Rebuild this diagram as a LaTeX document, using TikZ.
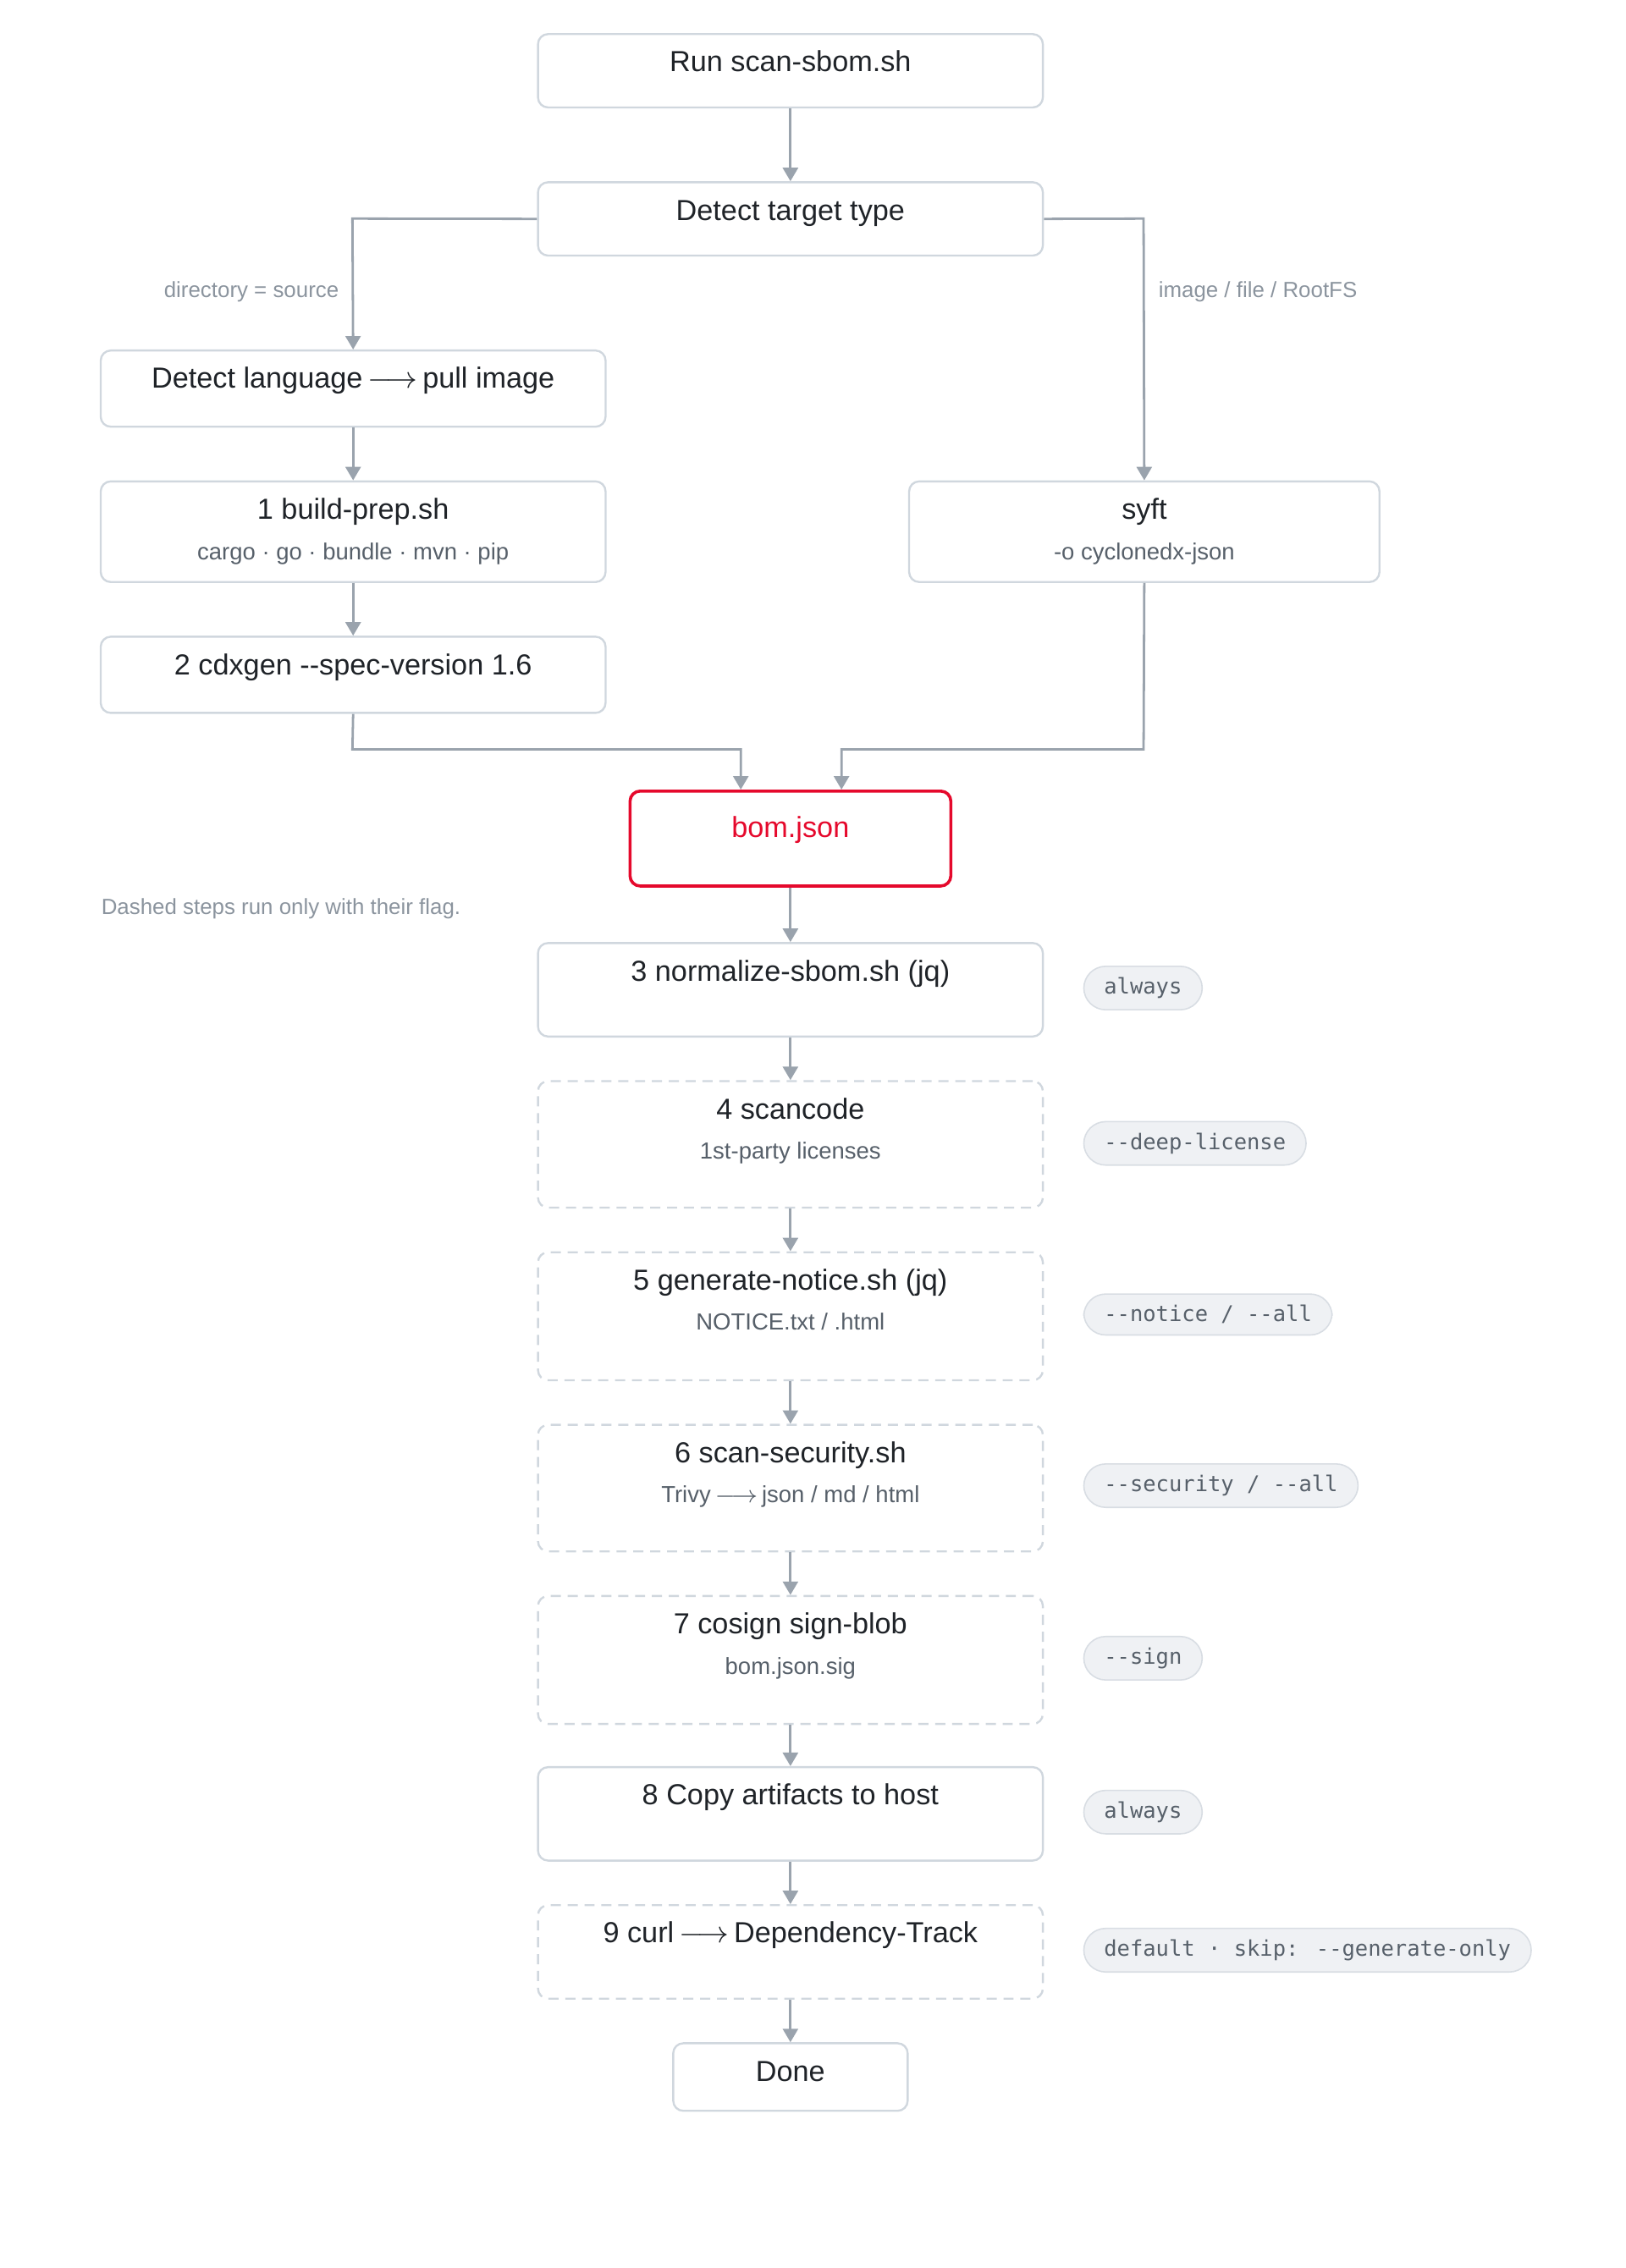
\documentclass[tikz,border=0pt]{standalone}
\usepackage{fontspec}
\setmainfont{Liberation Sans}
\newfontfamily\monofont{DejaVu Sans Mono}
\usetikzlibrary{arrows.meta,positioning}
\definecolor{boxline}{HTML}{D0D7DE}
\definecolor{wire}{HTML}{9AA3AD}
\definecolor{ink}{HTML}{1F2328}
\definecolor{subink}{HTML}{57606A}
\definecolor{note}{HTML}{8B949E}
\definecolor{alert}{HTML}{E5092C}
\definecolor{pillfill}{HTML}{EFF1F4}
\definecolor{pillline}{HTML}{D8DDE3}

% box: name, center x, top y, width, height, style
\newcommand{\stepbox}[6]{%
  \node[#6, minimum width=#4*0.015cm, minimum height=#5*0.015cm, anchor=north] (#1) at (#2,#3) {};}
\newcommand{\steptext}[3]{%
  \node[title, anchor=base] (#1-t) at ([yshift=-27*0.015cm]#1.north) {#2};
  \node[subtitle, anchor=base] (#1-s) at ([yshift=-55*0.015cm]#1.north) {#3};}
\newcommand{\arr}{\,$\longrightarrow$\,}

\begin{document}
\begin{tikzpicture}
        [x=0.015cm, y=-0.015cm,
        stage/.style={draw=boxline, rounded corners=3pt, fill=white, line width=0.6pt},
        flagged/.style={stage, dashed, dash pattern=on 3pt off 2pt},
        result/.style={draw=alert, rounded corners=3pt, line width=0.9pt},
        title/.style={font=\fontsize{8.6}{10}\selectfont, text=ink, inner sep=0pt},
        subtitle/.style={font=\fontsize{6.9}{8}\selectfont, text=subink, inner sep=0pt},
        flow/.style={draw=wire, line width=0.7pt, -{Triangle[length=4pt,width=4.5pt]}},
        branch/.style={font=\fontsize{6.5}{8}\selectfont, text=note, inner sep=0pt},
        pill/.style={draw=pillline, fill=pillfill, rounded corners=6.5pt, minimum height=26*0.015cm,
          inner xsep=6pt, font=\monofont\fontsize{6.4}{8}\selectfont, text=subink, anchor=west}]

        \useasboundingbox (0,0) rectangle (1130,1577);

        % boxes
        \stepbox{run}{549.5}{23}{351}{51}{stage}
        \stepbox{detect}{549.5}{126}{351}{51}{stage}
        \stepbox{lang}{245.5}{243}{351}{53}{stage}
        \stepbox{prep}{245.5}{334}{351}{70}{stage}
        \stepbox{cdx}{245.5}{442}{351}{53}{stage}
        \stepbox{syft}{795.5}{334}{327}{70}{stage}
        \stepbox{bom}{549.5}{549}{223}{66}{result}
        \stepbox{norm}{549.5}{655}{351}{65}{stage}
        \stepbox{scan}{549.5}{751}{351}{88}{flagged}
        \stepbox{notice}{549.5}{870}{351}{89}{flagged}
        \stepbox{sec}{549.5}{990}{351}{88}{flagged}
        \stepbox{sign}{549.5}{1109}{351}{89}{flagged}
        \stepbox{copy}{549.5}{1228}{351}{65}{stage}
        \stepbox{upload}{549.5}{1324}{351}{65}{flagged}
        \stepbox{done}{549.5}{1420}{163}{47}{stage}

        % texts
        \steptext{run}{Run scan-sbom.sh}{}
        \steptext{detect}{Detect target type}{}
        \steptext{lang}{Detect language\arr pull image}{}
        \steptext{prep}{1 build-prep.sh}{cargo · go · bundle · mvn · pip}
        \steptext{cdx}{2 cdxgen -{}-spec-version 1.6}{}
        \steptext{syft}{syft}{-o cyclonedx-json}
        \node[title, text=alert, anchor=base] (bom-t) at ([yshift=-33*0.015cm]bom.north) {bom.json};
        \steptext{norm}{3 normalize-sbom.sh (jq)}{}
        \steptext{scan}{4 scancode}{1st-party licenses}
        \steptext{notice}{5 generate-notice.sh (jq)}{NOTICE.txt / .html}
        \steptext{sec}{6 scan-security.sh}{Trivy\arr json / md / html}
        \steptext{sign}{7 cosign sign-blob}{bom.json.sig}
        \steptext{copy}{8 Copy artifacts to host}{}
        \steptext{upload}{9 curl\arr Dependency-Track}{}
        \steptext{done}{Done}{}

        % flags
        \node[pill] (f3) at (753,687) {always};
        \node[pill] (f4) at (753,795) {-{}-deep-license};
        \node[pill] (f5) at (753,914) {-{}-notice / -{}-all};
        \node[pill] (f6) at (753,1033) {-{}-security / -{}-all};
        \node[pill] (f7) at (753,1153) {-{}-sign};
        \node[pill] (f8) at (753,1260) {always};
        \node[pill] (f9) at (753,1356) {default · skip: -{}-generate-only};

        \node[branch, anchor=west] (legend) at (70,632) {Dashed steps run only with their flag.};
        \node[branch, anchor=east] (srcnote) at (236,203) {directory = source};
        \node[branch, anchor=west] (imgnote) at (805,203) {image / file / RootFS};

        % connectors
        \coordinate (dl) at (245,152);
        \coordinate (dr) at (795,152);
        \coordinate (jl) at (245,521);
        \coordinate (jm) at (515,521);
        \coordinate (jr) at (795,521);
        \coordinate (jn) at (585,521);
        \draw[flow] (run) -- (detect);
        \draw[flow] (detect.west) -- (dl) -- (lang.north);
        \draw[flow] (detect.east) -- (dr) -- (syft.north);
        \draw[flow] (lang) -- (prep);
        \draw[flow] (prep) -- (cdx);
        \draw[flow] (cdx.south) -- (jl) -- (jm) -- (jm |- bom.north);
        \draw[flow] (syft.south) -- (jr) -- (jn) -- (jn |- bom.north);
        \draw[flow] (bom) -- (norm);
        \draw[flow] (norm) -- (scan);
        \draw[flow] (scan) -- (notice);
        \draw[flow] (notice) -- (sec);
        \draw[flow] (sec) -- (sign);
        \draw[flow] (sign) -- (copy);
        \draw[flow] (copy) -- (upload);
        \draw[flow] (upload) -- (done);

    \end{tikzpicture}
\end{document}
